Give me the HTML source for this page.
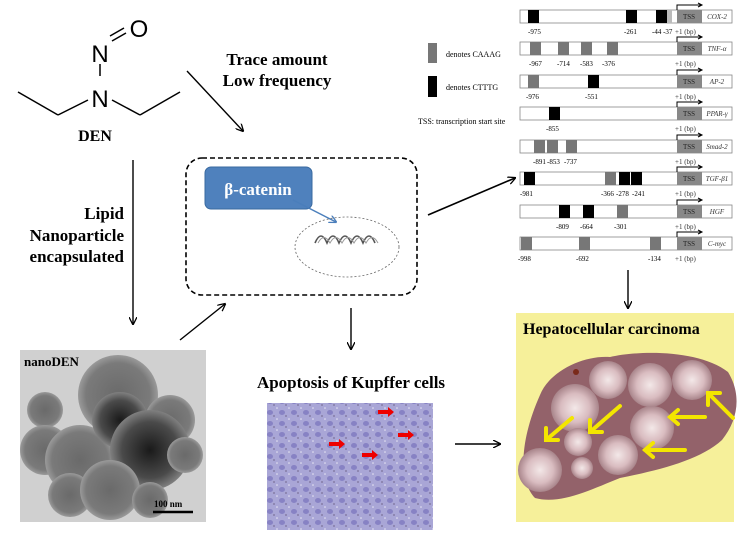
<!DOCTYPE html>
<html><head><meta charset="utf-8"><style>
html,body{margin:0;padding:0;background:#fff;}
svg{display:block;}
text{font-family:"Liberation Serif",serif;}
</style></head><body>
<svg width="751" height="533" viewBox="0 0 751 533" xmlns="http://www.w3.org/2000/svg">
<defs>
<marker id="ah" markerWidth="8" markerHeight="8" refX="7" refY="4" orient="auto" markerUnits="userSpaceOnUse">
<path d="M0,0 L8,4 L0,8" fill="none" stroke="#000" stroke-width="1.3"/></marker>
<marker id="ab" markerWidth="8" markerHeight="8" refX="7" refY="4" orient="auto" markerUnits="userSpaceOnUse">
<path d="M0,0 L8,4 L0,8" fill="none" stroke="#4a7ebb" stroke-width="1.3"/></marker>
<radialGradient id="p1"><stop offset="0" stop-color="#1a1a1a"/><stop offset="0.7" stop-color="#4a4a4a"/><stop offset="1" stop-color="#808080"/></radialGradient>
<radialGradient id="p2"><stop offset="0" stop-color="#6a6a6a"/><stop offset="0.8" stop-color="#7a7a7a"/><stop offset="1" stop-color="#9a9a9a"/></radialGradient>
<radialGradient id="nod"><stop offset="0" stop-color="#f3e8e8"/><stop offset="0.6" stop-color="#d9bcc0"/><stop offset="1" stop-color="#a8848a"/></radialGradient>
<pattern id="cells" width="12" height="11" patternUnits="userSpaceOnUse">
<rect width="12" height="11" fill="#a9a6d6"/><ellipse cx="6" cy="5.5" rx="3" ry="2.5" fill="#8782c4"/><circle cx="1" cy="1" r="0.8" fill="#e8e6f4"/><circle cx="10" cy="9" r="0.6" fill="#4a3a5a"/></pattern>
</defs>

<g stroke="#000" stroke-width="1.5" fill="none">
<line x1="18" y1="92" x2="58" y2="115"/><line x1="58" y1="115" x2="88" y2="100"/>
<line x1="112" y1="100" x2="140" y2="115"/><line x1="140" y1="115" x2="180" y2="92"/>
<line x1="100" y1="64" x2="100" y2="76"/>
<line x1="110" y1="36" x2="124" y2="28"/><line x1="112" y1="41" x2="126" y2="33"/>
</g>
<text x="100" y="62" font-size="24" text-anchor="middle" style="font-family:'Liberation Sans',sans-serif">N</text>
<text x="100" y="107" font-size="24" text-anchor="middle" style="font-family:'Liberation Sans',sans-serif">N</text>
<text x="139" y="37" font-size="24" text-anchor="middle" style="font-family:'Liberation Sans',sans-serif">O</text>
<text x="95" y="141" font-size="16" font-weight="bold" text-anchor="middle">DEN</text>

<text x="277" y="65" font-size="17" font-weight="bold" text-anchor="middle">Trace amount</text>
<text x="277" y="86" font-size="17" font-weight="bold" text-anchor="middle">Low frequency</text>
<line x1="187" y1="71" x2="243" y2="131" stroke="#000" stroke-width="1.4" marker-end="url(#ah)"/>

<text x="124" y="219" font-size="17" font-weight="bold" text-anchor="end">Lipid</text>
<text x="124" y="241" font-size="17" font-weight="bold" text-anchor="end">Nanoparticle</text>
<text x="124" y="262" font-size="17" font-weight="bold" text-anchor="end">encapsulated</text>
<line x1="133" y1="160" x2="133" y2="324" stroke="#000" stroke-width="1.4" marker-end="url(#ah)"/>

<rect x="186" y="158" width="231" height="137" rx="16" fill="none" stroke="#000" stroke-width="1.6" stroke-dasharray="5,3"/>
<rect x="205" y="167" width="107" height="42" rx="6" fill="#4f81bd" stroke="#3a6aa0"/>
<text x="258" y="195" font-size="17" font-weight="bold" fill="#fff" text-anchor="middle">β-catenin</text>
<ellipse cx="347" cy="247" rx="52" ry="30" fill="none" stroke="#666" stroke-width="0.8" stroke-dasharray="2,2"/>
<line x1="293" y1="200" x2="336" y2="222" stroke="#4a7ebb" stroke-width="1.4" marker-end="url(#ab)"/>
<path d="M315,243 q6,-14 12,0 q6,-14 12,0 q6,-14 12,0 q6,-14 12,0 q6,-14 12,0" fill="none" stroke="#555" stroke-width="1.6"/>
<path d="M318,243 q6,-11 12,0 q6,-11 12,0 q6,-11 12,0 q6,-11 12,0 q6,-11 12,0" fill="none" stroke="#999" stroke-width="1"/>

<line x1="180" y1="340" x2="225" y2="304" stroke="#000" stroke-width="1.4" marker-end="url(#ah)"/>
<line x1="351" y1="308" x2="351" y2="349" stroke="#000" stroke-width="1.4" marker-end="url(#ah)"/>
<line x1="428" y1="215" x2="515" y2="178" stroke="#000" stroke-width="1.6" marker-end="url(#ah)"/>
<line x1="628" y1="270" x2="628" y2="308" stroke="#000" stroke-width="1.4" marker-end="url(#ah)"/>
<line x1="455" y1="444" x2="500" y2="444" stroke="#000" stroke-width="1.4" marker-end="url(#ah)"/>

<rect x="428" y="43" width="9" height="20" fill="#777"/>
<text x="446" y="57" font-size="8">denotes CAAAG</text>
<rect x="428" y="76" width="9" height="21" fill="#000"/>
<text x="446" y="90" font-size="8">denotes CTTTG</text>
<text x="418" y="124" font-size="8">TSS: transcription start site</text>

<g font-size="7" stroke-width="0.8">
<g transform="translate(0,10)">
<rect x="520" y="0" width="212" height="13" fill="#fff" stroke="#888"/>
<rect x="528" y="0" width="11" height="13" fill="#000"/><rect x="626" y="0" width="11" height="13" fill="#000"/><rect x="656" y="0" width="11" height="13" fill="#000"/><rect x="667" y="0" width="5" height="13" fill="#bbb"/>
<text x="528" y="24">-975</text><text x="624" y="24">-261</text><text x="652" y="24">-44 -37</text></g>
<g transform="translate(0,42)">
<rect x="520" y="0" width="212" height="13" fill="#fff" stroke="#888"/>
<rect x="530" y="0" width="11" height="13" fill="#777"/><rect x="558" y="0" width="11" height="13" fill="#777"/><rect x="581" y="0" width="11" height="13" fill="#777"/><rect x="607" y="0" width="11" height="13" fill="#777"/>
<text x="529" y="24">-967</text><text x="557" y="24">-714</text><text x="580" y="24">-583</text><text x="602" y="24">-376</text></g>
<g transform="translate(0,75)">
<rect x="520" y="0" width="212" height="13" fill="#fff" stroke="#888"/>
<rect x="528" y="0" width="11" height="13" fill="#777"/><rect x="588" y="0" width="11" height="13" fill="#000"/>
<text x="526" y="24">-976</text><text x="585" y="24">-551</text></g>
<g transform="translate(0,107)">
<rect x="520" y="0" width="212" height="13" fill="#fff" stroke="#888"/>
<rect x="549" y="0" width="11" height="13" fill="#000"/>
<text x="546" y="24">-855</text></g>
<g transform="translate(0,140)">
<rect x="520" y="0" width="212" height="13" fill="#fff" stroke="#888"/>
<rect x="534" y="0" width="11" height="13" fill="#777"/><rect x="547" y="0" width="11" height="13" fill="#777"/><rect x="566" y="0" width="11" height="13" fill="#777"/>
<text x="533" y="24">-891</text><text x="547" y="24">-853</text><text x="564" y="24">-737</text></g>
<g transform="translate(0,172)">
<rect x="520" y="0" width="212" height="13" fill="#fff" stroke="#888"/>
<rect x="524" y="0" width="11" height="13" fill="#000"/><rect x="605" y="0" width="11" height="13" fill="#777"/><rect x="619" y="0" width="11" height="13" fill="#000"/><rect x="631" y="0" width="11" height="13" fill="#000"/>
<text x="520" y="24">-981</text><text x="601" y="24">-366</text><text x="616" y="24">-278</text><text x="632" y="24">-241</text></g>
<g transform="translate(0,205)">
<rect x="520" y="0" width="212" height="13" fill="#fff" stroke="#888"/>
<rect x="559" y="0" width="11" height="13" fill="#000"/><rect x="583" y="0" width="11" height="13" fill="#000"/><rect x="617" y="0" width="11" height="13" fill="#777"/>
<text x="556" y="24">-809</text><text x="580" y="24">-664</text><text x="614" y="24">-301</text></g>
<g transform="translate(0,237)">
<rect x="520" y="0" width="212" height="13" fill="#fff" stroke="#888"/>
<rect x="521" y="0" width="11" height="13" fill="#777"/><rect x="579" y="0" width="11" height="13" fill="#777"/><rect x="650" y="0" width="11" height="13" fill="#777"/>
<text x="518" y="24">-998</text><text x="576" y="24">-692</text><text x="648" y="24">-134</text></g>
</g>
<g>
<rect x="677" y="10" width="25" height="13" fill="#888"/><rect x="677" y="42" width="25" height="13" fill="#888"/><rect x="677" y="75" width="25" height="13" fill="#888"/><rect x="677" y="107" width="25" height="13" fill="#888"/><rect x="677" y="140" width="25" height="13" fill="#888"/><rect x="677" y="172" width="25" height="13" fill="#888"/><rect x="677" y="205" width="25" height="13" fill="#888"/><rect x="677" y="237" width="25" height="13" fill="#888"/>
</g>
<g font-size="7" fill="#222" text-anchor="middle">
<text x="689" y="19">TSS</text><text x="689" y="51">TSS</text><text x="689" y="84">TSS</text><text x="689" y="116">TSS</text><text x="689" y="149">TSS</text><text x="689" y="181">TSS</text><text x="689" y="214">TSS</text><text x="689" y="246">TSS</text>
</g>
<g font-size="7" font-style="italic" fill="#333" text-anchor="middle">
<text x="717" y="19">COX-2</text><text x="717" y="51">TNF-α</text><text x="717" y="84">AP-2</text><text x="717" y="116">PPAR-γ</text><text x="717" y="149">Smad-2</text><text x="717" y="181">TGF-β1</text><text x="717" y="214">HGF</text><text x="717" y="246">C-myc</text>
</g>
<g font-size="7" fill="#333">
<text x="675" y="34">+1 (bp)</text><text x="675" y="66">+1 (bp)</text><text x="675" y="99">+1 (bp)</text><text x="675" y="131">+1 (bp)</text><text x="675" y="164">+1 (bp)</text><text x="675" y="196">+1 (bp)</text><text x="675" y="229">+1 (bp)</text><text x="675" y="261">+1 (bp)</text>
</g>
<g stroke="#000" stroke-width="1" fill="none">
<path d="M677,10 V5 H701 M698,3 L702,5 L698,7"/><path d="M677,42 V37 H701 M698,35 L702,37 L698,39"/><path d="M677,75 V70 H701 M698,68 L702,70 L698,72"/><path d="M677,107 V102 H701 M698,100 L702,102 L698,104"/><path d="M677,140 V135 H701 M698,133 L702,135 L698,137"/><path d="M677,172 V167 H701 M698,165 L702,167 L698,169"/><path d="M677,205 V200 H701 M698,198 L702,200 L698,202"/><path d="M677,237 V232 H701 M698,230 L702,232 L698,234"/>
</g>

<rect x="20" y="350" width="186" height="172" fill="#d0d0d0"/>
<g>
<circle cx="45" cy="410" r="18" fill="url(#p2)"/>
<circle cx="118" cy="395" r="40" fill="url(#p2)"/>
<circle cx="170" cy="420" r="25" fill="url(#p2)"/>
<circle cx="45" cy="450" r="25" fill="url(#p2)"/>
<circle cx="80" cy="460" r="35" fill="url(#p2)"/>
<circle cx="120" cy="420" r="28" fill="url(#p1)"/>
<circle cx="150" cy="450" r="40" fill="url(#p1)"/>
<circle cx="185" cy="455" r="18" fill="url(#p2)"/>
<circle cx="70" cy="495" r="22" fill="url(#p2)"/>
<circle cx="110" cy="490" r="30" fill="url(#p2)"/>
<circle cx="150" cy="500" r="18" fill="url(#p2)"/>
</g>
<text x="24" y="366" font-size="13" font-weight="bold">nanoDEN</text>
<text x="154" y="507" font-size="9" font-weight="bold">100 nm</text>
<line x1="153" y1="512" x2="193" y2="512" stroke="#000" stroke-width="2.5"/>

<text x="351" y="388" font-size="17" font-weight="bold" text-anchor="middle">Apoptosis of Kupffer cells</text>
<rect x="267" y="403" width="166" height="127" fill="url(#cells)"/>
<g fill="#e00">
<polygon points="378,410 388,410 388,407 394,412 388,417 388,414 378,414"/>
<polygon points="398,433 408,433 408,430 414,435 408,440 408,437 398,437"/>
<polygon points="329,442 339,442 339,439 345,444 339,449 339,446 329,446"/>
<polygon points="362,453 372,453 372,450 378,455 372,460 372,457 362,457"/>
</g>

<rect x="516" y="313" width="218" height="209" fill="#f6f09a"/>
<path d="M540,395 C550,370 585,355 610,357 C640,350 700,350 728,372 C742,395 738,420 722,440 C700,460 660,470 620,478 C590,490 560,505 535,498 C518,480 520,440 540,395 Z" fill="#93626a"/>
<circle cx="576" cy="372" r="3" fill="#7a2a1a"/>
<g>
<circle cx="608" cy="380" r="19" fill="url(#nod)"/>
<circle cx="650" cy="385" r="22" fill="url(#nod)"/>
<circle cx="692" cy="380" r="20" fill="url(#nod)"/>
<circle cx="575" cy="408" r="24" fill="url(#nod)"/>
<circle cx="652" cy="428" r="22" fill="url(#nod)"/>
<circle cx="618" cy="455" r="20" fill="url(#nod)"/>
<circle cx="540" cy="470" r="22" fill="url(#nod)"/>
<circle cx="578" cy="442" r="14" fill="url(#nod)"/>
<circle cx="582" cy="468" r="11" fill="url(#nod)"/>
</g>
<text x="523" y="334" font-size="16" font-weight="bold">Hepatocellular  carcinoma</text>
<g stroke="#f3e600" stroke-width="4" fill="none" stroke-linecap="round">
<path d="M572,418 L546,440 M546,428 L546,440 L558,440"/>
<path d="M620,406 L590,432 M590,420 L590,432 L602,432"/>
<path d="M705,417 L670,417 M678,410 L670,417 L678,424"/>
<path d="M733,418 L708,393 M708,405 L708,393 L720,393"/>
<path d="M685,450 L645,450 M653,443 L645,450 L653,457"/>
</g>
</svg>
</body></html>
